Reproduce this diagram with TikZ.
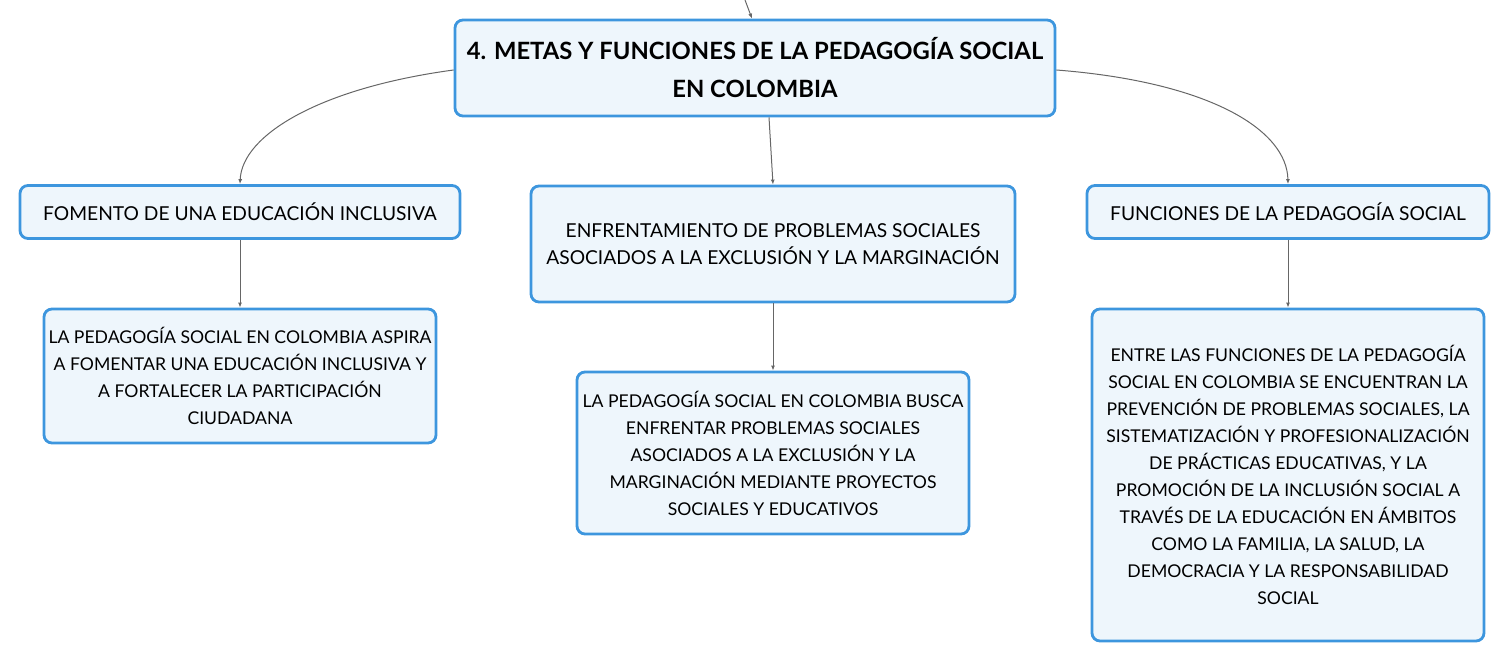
\documentclass[tikz,border=0pt]{standalone}
\usepackage{fontspec}
\setmainfont{Lato}
\usetikzlibrary{arrows.meta}
\definecolor{boxline}{HTML}{3D96DE}
\definecolor{boxfill}{HTML}{EEF6FC}
\definecolor{edgegray}{HTML}{666666}
\begin{document}
\begin{tikzpicture}[x=0.5pt,y=-0.5pt,
box/.style={rectangle,rounded corners=4pt,draw=boxline,line width=1.4pt,fill=boxfill,
  align=center,inner sep=1pt,font=\fontsize{9.6}{13.5}\selectfont},
note/.style={font=\fontsize{8.8}{13.5}\selectfont},
link/.style={draw=edgegray,line width=0.5pt,-{Latex[length=2.5pt,width=2pt]}}]
\tikzstyle{every node}=[box]
\useasboundingbox (0,0) rectangle (1510,662);
\node[minimum width=300pt,minimum height=48pt,font=\fontsize{11.9}{19}\selectfont\bfseries] (Root) at (755,68)
  {4. METAS Y FUNCIONES DE LA PEDAGOGÍA SOCIAL\\EN COLOMBIA};
\node[minimum width=220pt,minimum height=26.5pt] (Incl) at (240,212) {FOMENTO DE UNA EDUCACIÓN INCLUSIVA};
\node[minimum width=242pt,minimum height=58pt] (Probl) at (773,244)
  {ENFRENTAMIENTO DE PROBLEMAS SOCIALES\\ASOCIADOS A LA EXCLUSIÓN Y LA MARGINACIÓN};
\node[minimum width=201pt,minimum height=26.5pt] (Func) at (1288,212) {FUNCIONES DE LA PEDAGOGÍA SOCIAL};
\node[note,minimum width=196pt,minimum height=67pt] (InclT) at (240,376)
  {LA PEDAGOGÍA SOCIAL EN COLOMBIA ASPIRA\\A FOMENTAR UNA EDUCACIÓN INCLUSIVA Y\\A FORTALECER LA PARTICIPACIÓN\\CIUDADANA};
\node[note,minimum width=196pt,minimum height=81pt] (ProblT) at (773,453)
  {LA PEDAGOGÍA SOCIAL EN COLOMBIA BUSCA\\ENFRENTAR PROBLEMAS SOCIALES\\ASOCIADOS A LA EXCLUSIÓN Y LA\\MARGINACIÓN MEDIANTE PROYECTOS\\SOCIALES Y EDUCATIVOS};
\node[note,minimum width=196pt,minimum height=166pt] (FuncT) at (1288,475)
  {ENTRE LAS FUNCIONES DE LA PEDAGOGÍA\\SOCIAL EN COLOMBIA SE ENCUENTRAN LA\\PREVENCIÓN DE PROBLEMAS SOCIALES, LA\\SISTEMATIZACIÓN Y PROFESIONALIZACIÓN\\DE PRÁCTICAS EDUCATIVAS, Y LA\\PROMOCIÓN DE LA INCLUSIÓN SOCIAL A\\TRAVÉS DE LA EDUCACIÓN EN ÁMBITOS\\COMO LA FAMILIA, LA SALUD, LA\\DEMOCRACIA Y LA RESPONSABILIDAD\\SOCIAL};
\coordinate (Up) at (745,0);
\draw[link] (Up) -- (Root.north -| 752,0);
\draw[link] (Root.west |- 0,70) .. controls (320,88) and (242,135) .. (Incl.north);
\draw[link] (Root.south -| 769,0) -- (Probl.north);
\draw[link] (Root.east |- 0,70) .. controls (1210,82) and (1287,130) .. (Func.north);
\draw[link] (Incl) -- (InclT);
\draw[link] (Probl) -- (ProblT);
\draw[link] (Func) -- (FuncT);
\end{tikzpicture}
\end{document}
